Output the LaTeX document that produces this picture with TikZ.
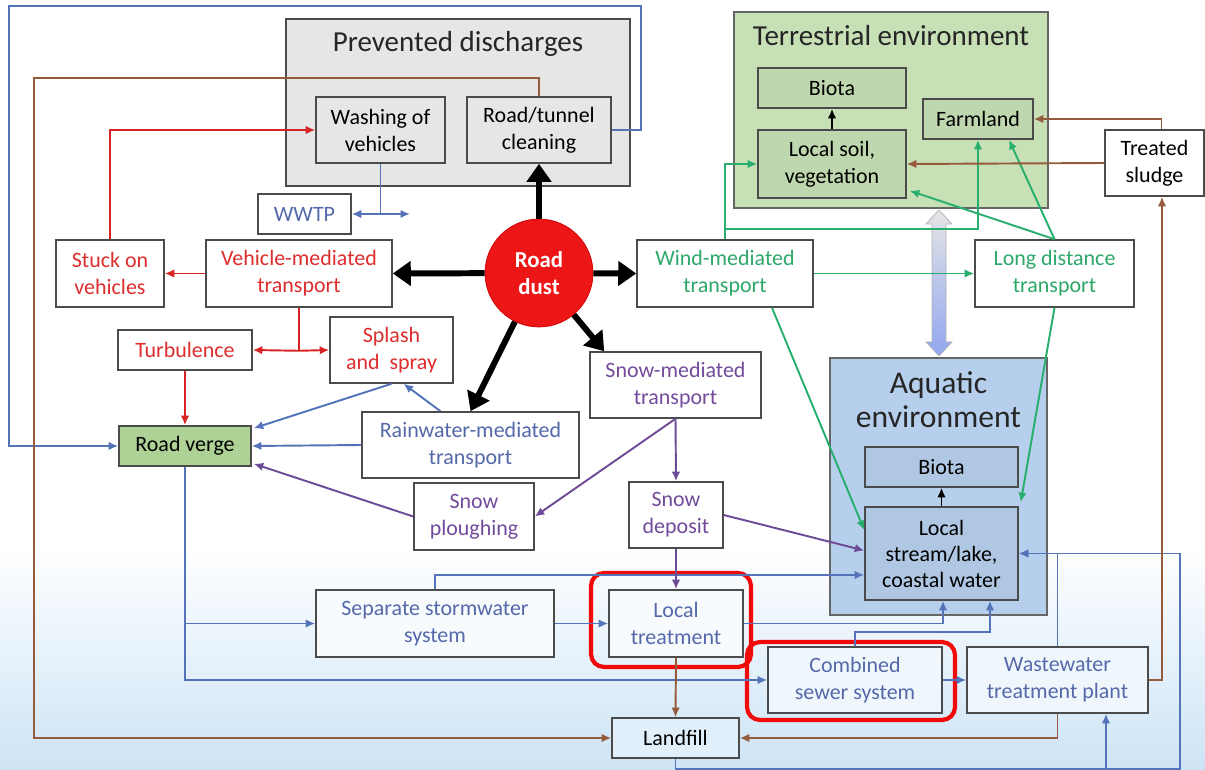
\documentclass[tikz,border=0pt]{standalone}
\usepackage{fontspec}
\setmainfont{Carlito}
\usetikzlibrary{positioning,calc,arrows.meta}

\definecolor{boxline}{RGB}{75,75,75}
\definecolor{redtxt}{RGB}{222,45,45}
\definecolor{greentxt}{RGB}{45,168,105}
\definecolor{bluetxt}{RGB}{85,105,170}
\definecolor{purpletxt}{RGB}{115,75,155}
\definecolor{blueline}{RGB}{85,115,185}
\definecolor{brownline}{RGB}{150,90,60}
\definecolor{greenline}{RGB}{40,175,110}
\definecolor{redline}{RGB}{215,35,35}
\definecolor{purpleline}{RGB}{110,75,150}
\definecolor{prevgray}{RGB}{230,230,230}
\definecolor{terrgreen}{RGB}{199,224,182}
\definecolor{vergegreen}{RGB}{174,210,150}
\definecolor{aquablue}{RGB}{182,207,236}
\definecolor{dustred}{RGB}{236,22,22}
\definecolor{bgblue}{RGB}{205,228,246}
\definecolor{hlred}{RGB}{240,10,10}

\begin{document}
\begin{tikzpicture}[x=0.02cm,y=-0.02cm,
  box/.style={draw=boxline, line width=0.9pt, fill=white, align=center, inner sep=1pt,
    font=\fontsize{12.5}{15.4}\selectfont},
  title/.style={font=\fontsize{16.5}{20}\selectfont, text=black!85},
  tip/.style={-{Latex[length=1.9mm,width=1.7mm]}},
  bl/.style={draw=blueline, line width=1.1pt, tip},
  rl/.style={draw=redline, line width=1.1pt, tip},
  gl/.style={draw=greenline, line width=1.1pt, tip},
  pl/.style={draw=purpleline, line width=1.1pt, tip},
  brl/.style={draw=brownline, line width=1.1pt, tip},
  fat/.style={line width=3.4pt, -{Triangle[length=3.6mm,width=4.8mm]}},
  hilite/.style={draw=hlred, line width=2.4pt, rounded corners=0.26cm}]

  \useasboundingbox (0,0) rectangle (1205,770);
  \shade[top color=white, bottom color=bgblue] (0,545) rectangle (1205,770);

  % containers
  \node[draw=boxline, line width=0.9pt, fill=prevgray, minimum width=6.88cm, minimum height=3.34cm] (prev) at (458,102.5) {};
  \node[title] (prevtitle) at (458,44) {Prevented discharges};
  \node[draw=gray!80!black, line width=0.8pt, fill=terrgreen, minimum width=6.28cm, minimum height=3.92cm] (terr) at (891,110) {};
  \node[title] (terrtitle) at (891,36) {Terrestrial environment};
  \node[draw=gray!80!black, line width=0.8pt, fill=aquablue, minimum width=4.34cm, minimum height=5.14cm] (aqua) at (938.5,486.5) {};
  \node[title, align=center, font=\fontsize{18}{19.5}\selectfont] (aquatitle) at (938.5,400) {Aquatic\\environment};

  % nodes
  \node[box, fill=prevgray, minimum width=2.58cm, minimum height=1.32cm] (wash) at (380.5,130) {Washing of\\vehicles};
  \node[box, fill=prevgray, minimum width=2.88cm, minimum height=1.32cm] (clean) at (539,130) {Road/tunnel\\cleaning};
  \node[box, text=bluetxt, minimum width=1.86cm, minimum height=0.8cm] (wwtp) at (304.5,214) {WWTP};
  \node[circle, draw=red!80!black, fill=dustred, minimum size=2.16cm, align=center, text=white,
    font=\fontsize{13}{15.4}\selectfont\bfseries] (dust) at (539,273) {Road\\dust};
  \node[box, text=redtxt, minimum width=3.72cm, minimum height=1.34cm] (vmt) at (299,273.5) {Vehicle-mediated\\transport};
  \node[box, text=redtxt, minimum width=2.16cm, minimum height=1.34cm] (stuck) at (110,273.5) {Stuck on\\vehicles};
  \node[box, text=redtxt, minimum width=2.68cm, minimum height=0.8cm] (turb) at (185,350) {Turbulence};
  \node[box, text=redtxt, minimum width=2.46cm, minimum height=1.32cm] (splash) at (391.5,350) {Splash\\and\ \ spray};
  \node[box, fill=vergegreen, minimum width=2.64cm, minimum height=0.8cm] (verge) at (185,446) {Road verge};
  \node[box, text=bluetxt, minimum width=4.34cm, minimum height=1.32cm] (rain) at (470.5,445) {Rainwater-mediated\\transport};
  \node[box, text=purpletxt, minimum width=2.4cm, minimum height=1.34cm] (plough) at (474,516.5) {Snow\\ploughing};
  \node[box, text=purpletxt, minimum width=3.42cm, minimum height=1.32cm] (snowmt) at (675.5,385) {Snow-mediated\\transport};
  \node[box, text=purpletxt, minimum width=1.88cm, minimum height=1.32cm] (deposit) at (676,515) {Snow\\deposit};
  \node[box, text=greentxt, minimum width=3.52cm, minimum height=1.34cm] (wind) at (725,273.5) {Wind-mediated\\transport};
  \node[box, text=greentxt, minimum width=3.18cm, minimum height=1.34cm] (longd) at (1054.5,273.5) {Long distance\\transport};
  \node[box, fill=terrgreen!96!black, minimum width=2.96cm, minimum height=0.8cm] (biotaT) at (832,88) {Biota};
  \node[box, fill=terrgreen!96!black, minimum width=2.96cm, minimum height=1.36cm] (soil) at (832,164) {Local soil,\\vegetation};
  \node[box, fill=terrgreen!96!black, minimum width=2.2cm, minimum height=0.8cm] (farm) at (978,119) {Farmland};
  \node[box, minimum width=1.98cm, minimum height=1.32cm] (sludge) at (1154.5,163) {Treated\\sludge};
  \node[box, fill=aquablue!96!black, minimum width=3.06cm, minimum height=0.8cm] (biotaA) at (941.5,467) {Biota};
  \node[box, fill=aquablue!96!black, minimum width=3.06cm, minimum height=1.86cm,
    font=\fontsize{12.5}{14.8}\selectfont] (stream) at (941.5,553.5) {Local\\stream/lake,\\coastal water};
  \node[box, text=bluetxt, fill=white!85!bgblue, minimum width=4.76cm, minimum height=1.34cm] (storm) at (435,623.5) {Separate stormwater\\system};
  \node[box, text=bluetxt, fill=white!85!bgblue, minimum width=2.68cm, minimum height=1.34cm] (loctr) at (676,623.5) {Local\\treatment};
  \node[box, text=bluetxt, fill=white!70!bgblue, minimum width=3.48cm, minimum height=1.32cm] (comb) at (855,680) {Combined\\sewer system};
  \node[box, text=bluetxt, fill=white!70!bgblue, minimum width=3.62cm, minimum height=1.32cm] (wwtpl) at (1057.5,680) {Wastewater\\treatment plant};
  \node[box, fill=white!40!bgblue, minimum width=2.54cm, minimum height=0.8cm] (landfill) at (675.5,738) {Landfill};

  % highlights
  \draw[hilite] (591,573) rectangle (751,667);
  \draw[hilite] (747,642) rectangle (955,720);

  % big exchange arrow
  \shade[top color=gray!20, bottom color=aquablue!80!blue, draw=gray!60] (939,210) -- (952,224) -- (946,224) -- (946,342)
    -- (952,342) -- (939,356) -- (926,342) -- (932,342) -- (932,224) -- (926,224) -- cycle;

  % road dust
  \draw[fat] (dust) -- (clean.south);
  \draw[fat] (dust) -- (vmt.east);
  \draw[fat] (dust) -- (wind.west);
  \draw[fat] (dust) -- (rain.north);
  \draw[fat] (dust) -- ($(snowmt.north west)+(15,0)$);

  % vehicles
  \draw[rl] (stuck.north) |- (wash.west);
  \draw[rl] (vmt.west) -- (stuck.east);
  \draw[rl, -] (vmt.south) -- ++(0,43) coordinate (vsplit);
  \draw[rl] (vsplit) -- (turb.east);
  \draw[rl] (vsplit) -- (splash.west);
  \draw[rl] (turb.south) -- (verge.north);

  % rainwater and storm water
  \coordinate (wend) at (410,214);
  \draw[bl] (clean.east) -- ++(29,0) |- (9,6) |- (verge.west);
  \draw[bl] (wash.south) |- (wwtp.east);
  \draw[bl] (wash.south |- wwtp.east) -- (wend);
  \draw[bl] (splash.south) -- ($(verge.north east)+(2,3)$);
  \draw[bl] ($(rain.north)+(-30,0)$) -- ($(splash.south)+(12,0)$);
  \draw[bl] (rain.west) -- (verge.east);
  \draw[bl] (verge.south) |- (comb.west);
  \draw[bl] (verge.south |- storm.west) -- (storm.west);
  \draw[bl] (storm.east) -- (loctr.west);
  \draw[bl] (storm.north) |- ($(stream.west)+(0,21.5)$);
  \draw[bl] (loctr.east) -| ($(stream.south)+(1.5,0)$);
  \draw[bl] (comb.north) -- ++(0,-14) -| ($(stream.south)+(48.5,0)$);
  \draw[bl] (comb.east) -- (wwtpl.west);
  \draw[bl] (wwtpl.north) |- (stream.east);
  \draw[bl] (landfill.south) -- ++(0,10) -| (1180,553.5) -- (stream.east);
  \draw[bl] ($(wwtpl.south)+(48.5,55)$) -- ($(wwtpl.south)+(48.5,0)$);

  % snow
  \draw[pl] (snowmt.south) -- (deposit.north);
  \draw[pl] (snowmt.south) -- (plough.east);
  \draw[pl] (deposit.east) -- ($(stream.west)+(0,-3)$);
  \draw[pl] (deposit.south) -- (loctr.north);
  \draw[pl] (plough.west) -- ($(verge.south east)+(2,-3)$);

  % wind
  \draw[gl] (wind.north) |- (soil.west);
  \draw[gl] (wind.north) -- ++(0,-10) -| (farm.south);
  \draw[gl] (wind.east) -- (longd.west);
  \draw[gl] (longd.north) -- ($(soil.south east)+(3,-8)$);
  \draw[gl] (longd.north) -- ($(farm.south)+(31,0)$);
  \draw[gl] ($(wind.south)+(47,0)$) -- ($(stream.west)+(0,-23.5)$);
  \draw[gl] (longd.south) -- ($(stream.north east)+(2,-4)$);

  % sludge and landfill
  \draw[brl] (clean.north) -- ++(0,-18) -| (34,738) -- (landfill.west);
  \draw[brl] (loctr.south) -- (landfill.north);
  \draw[brl] (wwtpl.south) |- (landfill.east);
  \draw[brl] (wwtpl.east) -| ($(sludge.south)+(7.5,0)$);
  \draw[brl] ($(sludge.north)+(7,0)$) |- (farm.east);
  \draw[brl] (sludge.west) -- (soil.east);

  % biota
  \draw[line width=1.1pt, tip] (soil.north) -- (biotaT.south);
  \draw[line width=1.1pt, tip] (stream.north) -- (biotaA.south);
\end{tikzpicture}
\end{document}
